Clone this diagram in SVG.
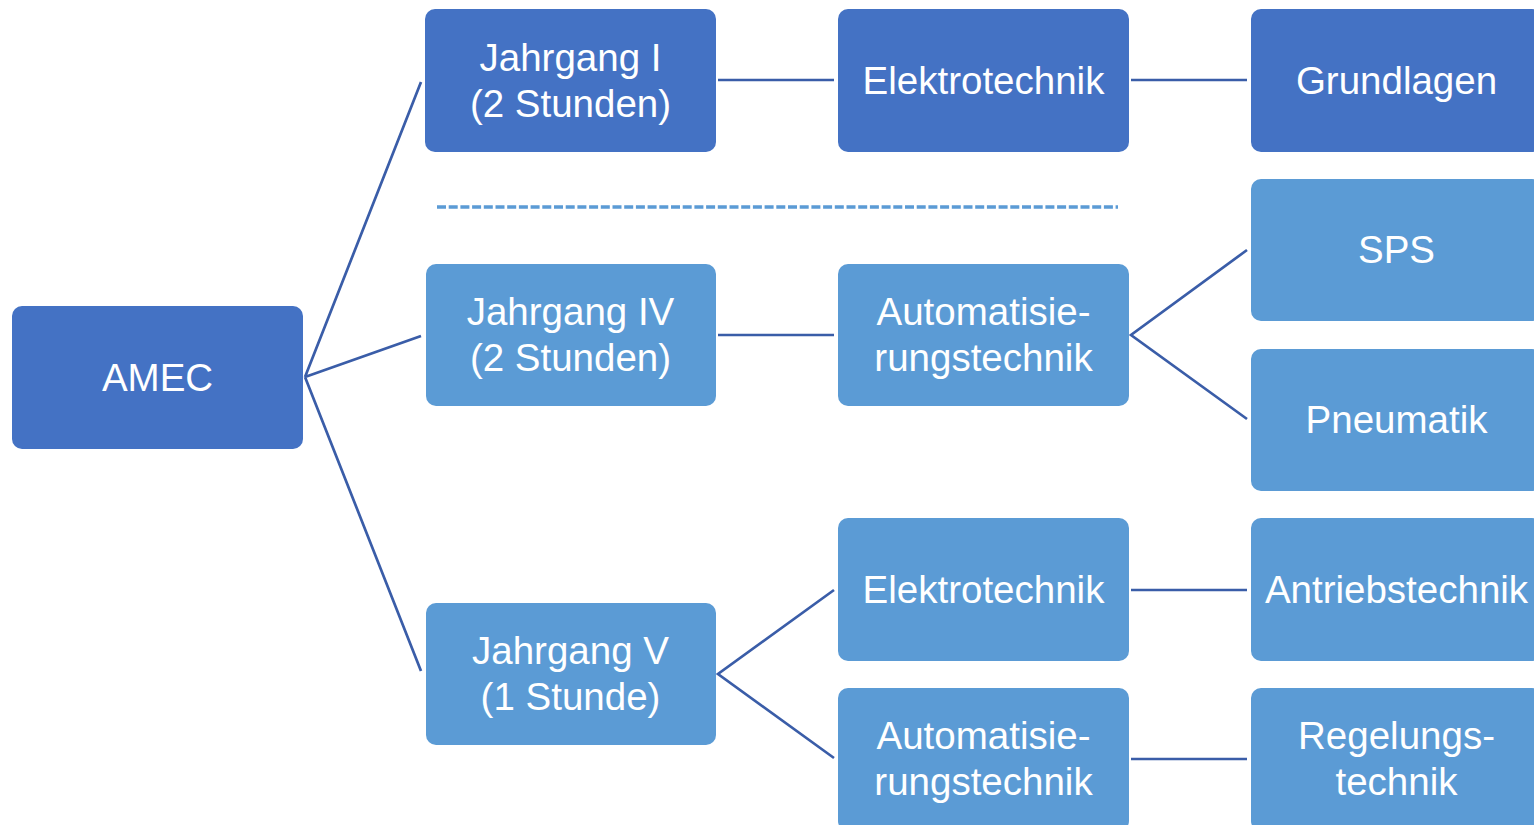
<svg xmlns="http://www.w3.org/2000/svg" width="1534" height="825" viewBox="0 0 1534 825">
<style>
.dk{fill:#4472C4}
.lt{fill:#5B9BD5}
.t{fill:#fff;font-family:"Liberation Sans",Arial,sans-serif;font-size:38.5px;text-anchor:middle}
.c{stroke:#3A5DA8;stroke-width:2.7;fill:none}
</style>
<rect width="1534" height="825" fill="#fff"/>
<g id="connectors">
<path class="c" d="M305,377 L421,82 M305,377 L421,336 M305,377 L421,671"/>
<path class="c" d="M718,80 H834 M1131,80 H1247"/>
<path class="c" d="M718,335 H834 M1247,250 L1131,335 L1247,419"/>
<path class="c" d="M834,590 L718,674 L834,758"/>
<path class="c" d="M1131,590 H1247 M1131,759 H1247"/>
<line x1="437" y1="207" x2="1118" y2="207" stroke="#5B9BD5" stroke-width="3.5" stroke-dasharray="9 2.7"/>
</g>
<g id="amec"><rect class="dk" x="12" y="306" width="291" height="143" rx="10"/><text class="t" x="157.5" y="391">AMEC</text></g>
<g id="jg1"><rect class="dk" x="425" y="9" width="291" height="143" rx="10"/><text class="t" x="570.5" y="71">Jahrgang I</text><text class="t" x="570.5" y="117">(2 Stunden)</text></g>
<g id="et1"><rect class="dk" x="838" y="9" width="291" height="143" rx="10"/><text class="t" x="983.5" y="94">Elektrotechnik</text></g>
<g id="grundlagen"><rect class="dk" x="1251" y="9" width="291" height="143" rx="10"/><text class="t" x="1396.5" y="94">Grundlagen</text></g>
<g id="jg4"><rect class="lt" x="426" y="264" width="290" height="142" rx="10"/><text class="t" x="570.5" y="325">Jahrgang IV</text><text class="t" x="570.5" y="371">(2 Stunden)</text></g>
<g id="at1"><rect class="lt" x="838" y="264" width="291" height="142" rx="10"/><text class="t" x="983.5" y="325">Automatisie-</text><text class="t" x="983.5" y="371">rungstechnik</text></g>
<g id="sps"><rect class="lt" x="1251" y="179" width="291" height="142" rx="10"/><text class="t" x="1396.5" y="263">SPS</text></g>
<g id="pneumatik"><rect class="lt" x="1251" y="349" width="291" height="142" rx="10"/><text class="t" x="1396.5" y="433">Pneumatik</text></g>
<g id="jg5"><rect class="lt" x="426" y="603" width="290" height="142" rx="10"/><text class="t" x="570.5" y="664">Jahrgang V</text><text class="t" x="570.5" y="710">(1 Stunde)</text></g>
<g id="et2"><rect class="lt" x="838" y="518" width="291" height="143" rx="10"/><text class="t" x="983.5" y="603">Elektrotechnik</text></g>
<g id="antrieb"><rect class="lt" x="1251" y="518" width="291" height="143" rx="10"/><text class="t" x="1396.5" y="603">Antriebstechnik</text></g>
<g id="at2"><rect class="lt" x="838" y="688" width="291" height="143" rx="10"/><text class="t" x="983.5" y="749">Automatisie-</text><text class="t" x="983.5" y="795">rungstechnik</text></g>
<g id="regelung"><rect class="lt" x="1251" y="688" width="291" height="143" rx="10"/><text class="t" x="1396.5" y="749">Regelungs-</text><text class="t" x="1396.5" y="795">technik</text></g>
</svg>
